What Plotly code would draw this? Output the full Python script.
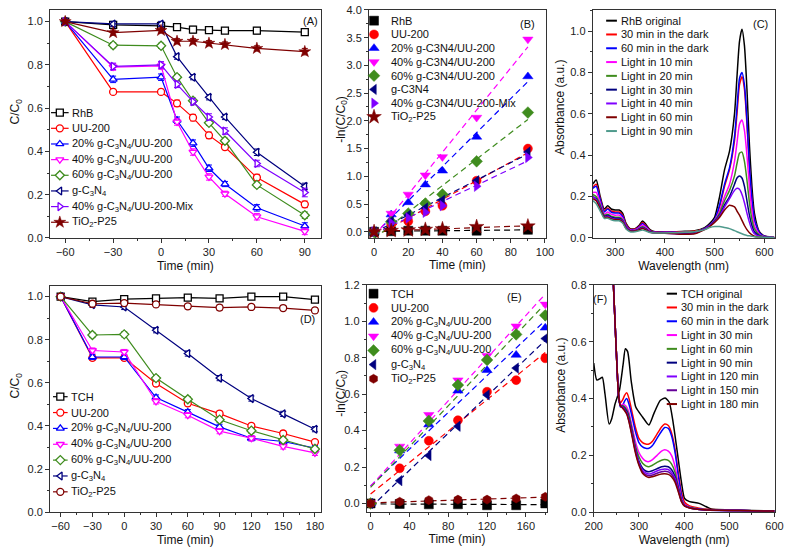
import numpy as np
import plotly.graph_objects as go

W, H = 794, 558
FONT = "Liberation Sans, Arial, sans-serif"

# ---------------- Panel A: RhB, C/C0 vs time ----------------
T_A = [-60, -30, 0, 10, 20, 30, 40, 60, 90]
A_RhB = [1.0, 0.985, 0.98, 0.974, 0.963, 0.961, 0.958, 0.958, 0.951]
A_UU = [1.0, 0.675, 0.675, 0.622, 0.556, 0.474, 0.42, 0.279, 0.155]
A_20 = [1.0, 0.733, 0.743, 0.544, 0.438, 0.322, 0.249, 0.139, 0.055]
A_40 = [1.0, 0.79, 0.795, 0.536, 0.397, 0.282, 0.204, 0.098, 0.03]
A_60 = [1.0, 0.891, 0.888, 0.743, 0.634, 0.532, 0.449, 0.245, 0.105]
A_gCN = [1.0, 0.989, 0.989, 0.838, 0.743, 0.65, 0.559, 0.396, 0.238]
A_Mix = [1.0, 0.793, 0.8, 0.71, 0.63, 0.559, 0.494, 0.344, 0.21]
A_P25 = [1.0, 0.949, 0.959, 0.909, 0.909, 0.9, 0.894, 0.876, 0.861]
A_RhB_err = [0.01, 0.012, 0.012, 0.015, 0.015, 0.012, 0.012, 0.015, 0.015]
A_UU_err = [0.01, 0.012, 0.012, 0.015, 0.015, 0.015, 0.012, 0.015, 0.015]
A_20_err = [0.01, 0.015, 0.015, 0.015, 0.015, 0.015, 0.012, 0.015, 0.015]
A_40_err = [0.01, 0.015, 0.015, 0.015, 0.015, 0.015, 0.012, 0.015, 0.015]
A_60_err = [0.01, 0.012, 0.012, 0.012, 0.012, 0.012, 0.012, 0.012, 0.015]
A_gCN_err = [0.01, 0.012, 0.012, 0.012, 0.012, 0.012, 0.012, 0.015, 0.015]
A_Mix_err = [0.01, 0.015, 0.015, 0.015, 0.015, 0.015, 0.015, 0.015, 0.02]
A_P25_err = [0.01, 0.012, 0.012, 0.012, 0.012, 0.012, 0.012, 0.012, 0.015]

# ---------------- Panel B: RhB kinetics ----------------
T_B = [0, 10, 20, 30, 40, 60, 90]
B_RhB = [0.0, 0.01, 0.02, 0.02, 0.02, 0.02, 0.035]
B_UU = [0.0, 0.14, 0.19, 0.37, 0.47, 0.92, 1.5]
B_20 = [0.0, 0.31, 0.53, 0.85, 1.1, 1.71, 2.8]
B_40 = [0.0, 0.33, 0.674, 1.02, 1.35, 2.06, 3.47]
B_60 = [0.0, 0.18, 0.33, 0.51, 0.674, 1.27, 2.15]
B_gCN = [0.0, 0.19, 0.3, 0.43, 0.57, 0.92, 1.44]
B_Mix = [0.0, 0.16, 0.25, 0.35, 0.47, 0.82, 1.34]
B_P25 = [0.0, 0.02, 0.03, 0.04, 0.05, 0.09, 0.1]

# ---------------- Panel C: RhB spectra ----------------
WL_C = [255, 262, 270, 278, 285, 292, 300, 308, 315, 322, 330, 340, 348, 355, 362, 370,
        380, 400, 420, 440, 460, 480, 490, 500, 510, 520, 530, 540, 545, 550, 555, 560,
        565, 570, 575, 580, 590, 600, 610, 620]
C_orig = [0.26, 0.28, 0.20, 0.14, 0.155, 0.14, 0.135, 0.135, 0.12, 0.07, 0.045, 0.045, 0.06, 0.082, 0.065, 0.04,
          0.03, 0.03, 0.03, 0.032, 0.035, 0.05, 0.07, 0.10, 0.20, 0.33, 0.42, 0.60, 0.78, 0.95, 1.01, 0.93,
          0.72, 0.45, 0.25, 0.12, 0.03, 0.01, 0.005, 0.003]
C_d30 = [0.245, 0.26, 0.19, 0.13, 0.145, 0.13, 0.125, 0.125, 0.11, 0.065, 0.042, 0.043, 0.055, 0.075, 0.058, 0.036,
         0.028, 0.028, 0.028, 0.03, 0.033, 0.045, 0.062, 0.085, 0.15, 0.25, 0.33, 0.47, 0.60, 0.74, 0.78, 0.72,
         0.55, 0.34, 0.19, 0.09, 0.025, 0.008, 0.004, 0.002]
C_d60 = [0.24, 0.25, 0.185, 0.125, 0.14, 0.125, 0.12, 0.12, 0.105, 0.06, 0.04, 0.04, 0.052, 0.07, 0.055, 0.034,
         0.027, 0.027, 0.027, 0.02, 0.025, 0.045, 0.062, 0.088, 0.16, 0.26, 0.34, 0.49, 0.63, 0.77, 0.80, 0.74,
         0.57, 0.35, 0.19, 0.09, 0.025, 0.008, 0.004, 0.002]
C_l10 = [0.22, 0.22, 0.17, 0.115, 0.125, 0.115, 0.11, 0.11, 0.095, 0.055, 0.038, 0.038, 0.048, 0.062, 0.05, 0.032,
         0.026, 0.026, 0.026, 0.028, 0.03, 0.045, 0.06, 0.085, 0.13, 0.2, 0.26, 0.37, 0.46, 0.55, 0.57, 0.52,
         0.40, 0.25, 0.13, 0.06, 0.018, 0.006, 0.003, 0.002]
C_l20 = [0.21, 0.2, 0.16, 0.11, 0.115, 0.105, 0.1, 0.1, 0.088, 0.052, 0.036, 0.036, 0.044, 0.055, 0.045, 0.03,
         0.025, 0.025, 0.025, 0.027, 0.03, 0.045, 0.06, 0.082, 0.12, 0.18, 0.23, 0.3, 0.36, 0.41, 0.415, 0.37,
         0.28, 0.17, 0.09, 0.045, 0.014, 0.005, 0.003, 0.002]
C_l30 = [0.2, 0.19, 0.15, 0.105, 0.11, 0.1, 0.095, 0.095, 0.083, 0.05, 0.035, 0.035, 0.042, 0.05, 0.042, 0.029,
         0.025, 0.024, 0.022, 0.02, 0.025, 0.045, 0.06, 0.08, 0.11, 0.16, 0.2, 0.26, 0.29, 0.3, 0.29, 0.25,
         0.18, 0.11, 0.06, 0.03, 0.01, 0.004, 0.002, 0.001]
C_l40 = [0.2, 0.185, 0.145, 0.1, 0.105, 0.095, 0.09, 0.09, 0.08, 0.048, 0.034, 0.034, 0.04, 0.048, 0.04, 0.028,
         0.024, 0.022, 0.02, 0.018, 0.022, 0.043, 0.058, 0.078, 0.105, 0.15, 0.19, 0.23, 0.24, 0.235, 0.21, 0.17,
         0.12, 0.075, 0.04, 0.02, 0.008, 0.003, 0.002, 0.001]
C_l60 = [0.19, 0.18, 0.14, 0.1, 0.1, 0.092, 0.088, 0.088, 0.077, 0.046, 0.033, 0.033, 0.038, 0.045, 0.038, 0.027,
         0.024, 0.022, 0.02, 0.018, 0.02, 0.04, 0.055, 0.075, 0.1, 0.135, 0.158, 0.15, 0.13, 0.11, 0.085, 0.06,
         0.04, 0.025, 0.015, 0.008, 0.004, 0.002, 0.001, 0.001]
C_l90 = [0.18, 0.165, 0.13, 0.095, 0.095, 0.088, 0.083, 0.083, 0.072, 0.043, 0.03, 0.03, 0.034, 0.038, 0.033, 0.026,
         0.024, 0.024, 0.025, 0.027, 0.03, 0.04, 0.05, 0.055, 0.055, 0.05, 0.045, 0.035, 0.03, 0.025, 0.02, 0.015,
         0.012, 0.01, 0.008, 0.006, 0.004, 0.003, 0.002, 0.001]

# ---------------- Panel D: TCH, C/C0 vs time ----------------
T_D = [-60, -30, 0, 30, 60, 90, 120, 150, 180]
D_TCH = [1.0, 0.977, 0.988, 0.992, 0.995, 0.992, 1.0, 1.0, 0.986]
D_UU = [1.0, 0.716, 0.716, 0.597, 0.505, 0.457, 0.4, 0.365, 0.325]
D_20 = [1.0, 0.72, 0.72, 0.532, 0.464, 0.396, 0.343, 0.328, 0.297]
D_40 = [1.0, 0.75, 0.743, 0.514, 0.45, 0.376, 0.343, 0.305, 0.275]
D_60 = [1.0, 0.822, 0.825, 0.622, 0.524, 0.429, 0.378, 0.335, 0.293]
D_gCN = [1.0, 0.962, 0.952, 0.844, 0.736, 0.622, 0.527, 0.456, 0.385]
D_P25 = [1.0, 0.967, 0.97, 0.964, 0.955, 0.949, 0.952, 0.947, 0.936]
D_err = [0.008, 0.012, 0.012, 0.012, 0.012, 0.012, 0.012, 0.012, 0.012]

# ---------------- Panel E: TCH kinetics ----------------
T_E = [0, 30, 60, 90, 120, 150, 180]
E_TCH = [0.0, -0.003, -0.005, -0.005, -0.01, -0.01, 0.0]
E_UU = [0.0, 0.193, 0.344, 0.457, 0.613, 0.677, 0.797]
E_20 = [0.0, 0.29, 0.433, 0.618, 0.731, 0.815, 0.964]
E_40 = [0.0, 0.313, 0.487, 0.677, 0.811, 0.973, 1.093]
E_60 = [0.0, 0.292, 0.453, 0.65, 0.788, 0.928, 1.033]
E_gCN = [0.0, 0.125, 0.263, 0.424, 0.596, 0.743, 0.905]
E_P25 = [0.0, 0.009, 0.018, 0.021, 0.021, 0.027, 0.036]

# ---------------- Panel F: TCH spectra ----------------
WL_F0 = [200, 207, 214, 219, 225, 234, 240, 247, 257, 265, 270, 275, 283, 293, 308, 322, 333, 347,
         358, 367, 376, 387, 394, 401, 412, 433, 448, 460, 500, 550, 600]
F_orig = [0.525, 0.465, 0.47, 0.475, 0.415, 0.31, 0.33, 0.38, 0.43, 0.52, 0.575, 0.565, 0.46, 0.37, 0.335,
          0.307, 0.347, 0.393, 0.402, 0.387, 0.312, 0.186, 0.106, 0.048, 0.037, 0.031, 0.02, 0.011, 0.008,
          0.006, 0.004]
WL_F = [243, 249, 255, 259, 264, 268, 273, 278, 285, 292, 300, 308, 315, 322, 330, 340, 350, 357, 365,
        372, 380, 387, 394, 401, 412, 430, 450, 500, 550, 600]
F_d30 = [0.82, 0.6, 0.42, 0.385, 0.395, 0.41, 0.42, 0.40, 0.35, 0.30, 0.26, 0.245, 0.24, 0.24, 0.25, 0.275,
         0.30, 0.31, 0.305, 0.28, 0.22, 0.14, 0.07, 0.035, 0.022, 0.015, 0.01, 0.007, 0.005, 0.004]
F_d60 = [0.82, 0.6, 0.41, 0.37, 0.375, 0.39, 0.40, 0.38, 0.335, 0.285, 0.245, 0.23, 0.225, 0.225, 0.235, 0.26,
         0.285, 0.298, 0.295, 0.27, 0.21, 0.13, 0.06, 0.025, 0.015, 0.01, 0.008, 0.006, 0.005, 0.004]
F_l30 = [0.82, 0.6, 0.41, 0.375, 0.38, 0.378, 0.37, 0.35, 0.30, 0.25, 0.21, 0.19, 0.18, 0.178, 0.185, 0.2,
         0.215, 0.22, 0.215, 0.2, 0.16, 0.1, 0.05, 0.028, 0.018, 0.012, 0.009, 0.006, 0.005, 0.004]
F_l60 = [0.82, 0.6, 0.41, 0.375, 0.375, 0.372, 0.36, 0.34, 0.29, 0.235, 0.195, 0.172, 0.163, 0.16, 0.165,
         0.175, 0.183, 0.185, 0.182, 0.17, 0.14, 0.09, 0.045, 0.025, 0.017, 0.012, 0.009, 0.006, 0.005, 0.004]
F_l90 = [0.82, 0.6, 0.41, 0.375, 0.372, 0.366, 0.355, 0.33, 0.28, 0.225, 0.18, 0.155, 0.145, 0.142, 0.146,
         0.153, 0.16, 0.162, 0.16, 0.15, 0.125, 0.085, 0.042, 0.024, 0.016, 0.011, 0.008, 0.006, 0.005, 0.004]
F_l120 = [0.82, 0.6, 0.41, 0.375, 0.37, 0.362, 0.35, 0.325, 0.275, 0.22, 0.175, 0.148, 0.138, 0.134, 0.138,
          0.145, 0.15, 0.152, 0.15, 0.14, 0.118, 0.08, 0.04, 0.023, 0.016, 0.011, 0.008, 0.006, 0.005, 0.004]
F_l150 = [0.82, 0.6, 0.41, 0.375, 0.368, 0.36, 0.348, 0.32, 0.27, 0.215, 0.17, 0.142, 0.132, 0.128, 0.131,
          0.137, 0.142, 0.144, 0.142, 0.133, 0.112, 0.077, 0.039, 0.022, 0.015, 0.01, 0.008, 0.006, 0.005, 0.004]
F_l180 = [0.82, 0.6, 0.41, 0.375, 0.366, 0.358, 0.345, 0.318, 0.265, 0.21, 0.165, 0.137, 0.127, 0.122, 0.125,
          0.13, 0.134, 0.135, 0.133, 0.125, 0.105, 0.072, 0.037, 0.021, 0.015, 0.01, 0.008, 0.006, 0.005, 0.004]

# ---------------- names ----------------
CN = "g-C<sub>3</sub>N<sub>4</sub>"
P25 = "TiO<sub>2</sub>-P25"
NAMES_A = ["RhB", "UU-200", "20% " + CN + "/UU-200", "40% " + CN + "/UU-200", "60% " + CN + "/UU-200",
           CN, "40% " + CN + "/UU-200-Mix", P25]
NAMES_B = ["RhB", "UU-200", "20% g-C3N4/UU-200", "40% g-C3N4/UU-200", "60% g-C3N4/UU-200", "g-C3N4",
           "40% g-C3N4/UU-200-Mix", P25]
NAMES_C = ["RhB original", "30 min in the dark", "60 min in the dark", "Light in 10 min", "Light in 20 min",
           "Light in 30 min", "Light in 40 min", "Light in 60 min", "Light in 90 min"]
NAMES_D = ["TCH", "UU-200", "20% " + CN + "/UU-200", "40% " + CN + "/UU-200", "60% " + CN + "/UU-200", CN, P25]
NAMES_F = ["TCH original", "30 min in the dark", "60 min in the dark", "Light in 30 min", "Light in 60 min",
           "Light in 90 min", "Light in 120 min", "Light in 150 min", "Light in 180 min"]

# ---------------- styles ----------------
BLACK, RED, BLUE, MAG = "#000000", "#ff0000", "#0000ff", "#ff00ff"
GREEN, NAVY, VIOLET, WINE = "#3f8c1e", "#00007f", "#7f00ff", "#7f0000"
TEAL, PURPLE = "#4f9a8c", "#660099"
COL_A = [BLACK, RED, BLUE, MAG, GREEN, NAVY, VIOLET, WINE]
SYM_A = ["square", "circle", "triangle-up", "triangle-down", "diamond", "triangle-left", "triangle-right", "star"]
OPEN_A = [True] * 7 + [False]
COL_D = [BLACK, RED, BLUE, MAG, GREEN, NAVY, WINE]
SYM_D = ["square", "circle", "triangle-up", "triangle-down", "diamond", "triangle-left", "circle"]
SYM_E = ["square", "circle", "triangle-up", "triangle-down", "diamond", "triangle-left", "hexagon"]
COL_C = [BLACK, RED, BLUE, MAG, GREEN, NAVY, VIOLET, WINE, TEAL]
COL_F = [BLACK, RED, BLUE, MAG, GREEN, NAVY, VIOLET, PURPLE, WINE]

fig = go.Figure()


def px(x):
    return x / W


def py(y):
    return 1 - y / H


def marker(sym, color, is_open, size):
    if is_open:
        return dict(symbol=sym, size=size, color="white", line=dict(color=color, width=1.3))
    return dict(symbol=sym, size=size, color=color, line=dict(color=color, width=0.5))


# Panel A traces
series_A = [A_RhB, A_UU, A_20, A_40, A_60, A_gCN, A_Mix, A_P25]
errs_A = [A_RhB_err, A_UU_err, A_20_err, A_40_err, A_60_err, A_gCN_err, A_Mix_err, A_P25_err]
for ys, er, c, s, o in zip(series_A, errs_A, COL_A, SYM_A, OPEN_A):
    fig.add_trace(go.Scatter(x=T_A, y=ys, mode="lines+markers", xaxis="x", yaxis="y",
                             line=dict(color=c, width=1.2), marker=marker(s, c, o, 9 if s == "star" else 7),
                             error_y=dict(type="data", array=er, color=c, thickness=1, width=3),
                             showlegend=False))

# Panel B traces
series_B = [B_RhB, B_UU, B_20, B_40, B_60, B_gCN, B_Mix, B_P25]
for ys, c, s in zip(series_B, COL_A, SYM_A):
    k, b = np.polyfit(T_B, ys, 1)
    xf = np.array([T_B[0], T_B[-1]], dtype=float)
    fig.add_trace(go.Scatter(x=xf, y=k * xf + b, mode="lines", xaxis="x2", yaxis="y2",
                             line=dict(color=c, width=1.2, dash="6px,4px"), showlegend=False))
for ys, c, s in zip(series_B, COL_A, SYM_A):
    fig.add_trace(go.Scatter(x=T_B, y=ys, mode="markers", xaxis="x2", yaxis="y2",
                             marker=marker(s, c, False, 11 if s == "star" else 9), showlegend=False))

# Panel C traces
series_C = [C_orig, C_d30, C_d60, C_l10, C_l20, C_l30, C_l40, C_l60, C_l90]
for ys, c in zip(series_C, COL_C):
    fig.add_trace(go.Scatter(x=WL_C, y=ys, mode="lines", xaxis="x3", yaxis="y3",
                             line=dict(color=c, width=1.5, shape="spline", smoothing=0.6), showlegend=False))

# Panel D traces
series_D = [D_TCH, D_UU, D_20, D_40, D_60, D_gCN, D_P25]
for ys, c, s in zip(series_D, COL_D, SYM_D):
    fig.add_trace(go.Scatter(x=T_D, y=ys, mode="lines+markers", xaxis="x4", yaxis="y4",
                             line=dict(color=c, width=1.2), marker=marker(s, c, True, 7),
                             error_y=dict(type="data", array=D_err, color=c, thickness=1, width=3),
                             showlegend=False))

# Panel E traces
series_E = [E_TCH, E_UU, E_20, E_40, E_60, E_gCN, E_P25]
for ys, c in zip(series_E, COL_D):
    k, b = np.polyfit(T_E, ys, 1)
    xf = np.array([T_E[0], T_E[-1]], dtype=float)
    fig.add_trace(go.Scatter(x=xf, y=k * xf + b, mode="lines", xaxis="x5", yaxis="y5",
                             line=dict(color=c, width=1.2, dash="6px,4px"), showlegend=False))
for ys, c, s in zip(series_E, COL_D, SYM_E):
    fig.add_trace(go.Scatter(x=T_E, y=ys, mode="markers", xaxis="x5", yaxis="y5",
                             marker=marker(s, c, False, 9), showlegend=False))

# Panel F traces
fig.add_trace(go.Scatter(x=WL_F0, y=F_orig, mode="lines", xaxis="x6", yaxis="y6",
                         line=dict(color=BLACK, width=1.5, shape="spline", smoothing=0.6), showlegend=False))
series_F = [F_d30, F_d60, F_l30, F_l60, F_l90, F_l120, F_l150, F_l180]
for ys, c in zip(series_F, COL_F[1:]):
    fig.add_trace(go.Scatter(x=WL_F, y=ys, mode="lines", xaxis="x6", yaxis="y6",
                             line=dict(color=c, width=1.5, shape="spline", smoothing=0.6), showlegend=False))

# ---------------- custom legends (overlay axis in pixel units) ----------------
annotations = []


def legend_text(x, y, text, size=11):
    annotations.append(dict(x=px(x), y=py(y), xref="paper", yref="paper", text=text, showarrow=False,
                            xanchor="left", yanchor="middle", font=dict(family=FONT, size=size, color="#111")))


def legend_line_marker(names, cols, syms, opens, x0, x1, xt, y0, dy, size):
    for i, (n, c, s, o) in enumerate(zip(names, cols, syms, opens)):
        yy = y0 + i * dy
        fig.add_trace(go.Scatter(x=[x0, x1], y=[yy, yy], mode="lines", xaxis="x7", yaxis="y7",
                                 line=dict(color=c, width=1.2), showlegend=False, hoverinfo="skip"))
        fig.add_trace(go.Scatter(x=[(x0 + x1) / 2], y=[yy], mode="markers", xaxis="x7", yaxis="y7",
                                 marker=marker(s, c, o, size + (2 if s == "star" else 0)),
                                 showlegend=False, hoverinfo="skip"))
        legend_text(xt, yy, n)


def legend_marker(names, cols, syms, xm, xt, y0, dy, size):
    for i, (n, c, s) in enumerate(zip(names, cols, syms)):
        yy = y0 + i * dy
        fig.add_trace(go.Scatter(x=[xm], y=[yy], mode="markers", xaxis="x7", yaxis="y7",
                                 marker=marker(s, c, False, size + (2 if s == "star" else 0)),
                                 showlegend=False, hoverinfo="skip"))
        legend_text(xt, yy, n)


def legend_line(names, cols, x0, x1, xt, y0, dy):
    for i, (n, c) in enumerate(zip(names, cols)):
        yy = y0 + i * dy
        fig.add_trace(go.Scatter(x=[x0, x1], y=[yy, yy], mode="lines", xaxis="x7", yaxis="y7",
                                 line=dict(color=c, width=2), showlegend=False, hoverinfo="skip"))
        legend_text(xt, yy, n)


legend_line_marker(NAMES_A, COL_A, SYM_A, OPEN_A, 43, 61, 62.5, 109, 16.0, 7)
legend_marker(NAMES_B, COL_A, SYM_A, 373.5, 389, 15, 14.05, 9)
legend_line(NAMES_C, COL_C, 611, 622, 624, 15, 14.1)
legend_line_marker(NAMES_D, COL_D, SYM_D, [True] * 7, 45, 60, 61.7, 399.3, 16.2, 7)
legend_marker(NAMES_D, COL_D, SYM_E, 373, 389, 294, 14.5, 9)
legend_line(NAMES_F, COL_F, 673, 683.5, 685.7, 294, 14.1)


# ---------------- y titles & panel labels ----------------
def text(x, y, t, size=11, angle=0):
    annotations.append(dict(x=px(x), y=py(y), xref="paper", yref="paper", text=t, showarrow=False,
                            xanchor="center", yanchor="middle", textangle=angle,
                            font=dict(family=FONT, size=size, color="#111")))


text(7, 108, "C/C<sub>0</sub>", 12, -90)
text(340, 116, "-ln(C/C<sub>0</sub>)", 12, -90)
text(564, 104, "Absorbance (a.u.)", 12, -90)
text(7, 388, "C/C<sub>0</sub>", 12, -90)
text(341, 396, "-ln(C/C<sub>0</sub>)", 12, -90)
text(564, 388, "Absorbance (a.u.)", 12, -90)
text(309, 15, "(A)")
text(530.5, 18, "(B)")
text(768.5, 18, "(C)")
text(305.5, 320, "(D)")
text(517.5, 297, "(E)")
text(605, 299, "(F)")

# ---------------- axes ----------------
TFONT = dict(family=FONT, size=12, color="#111")
AX = dict(showline=True, linecolor="#333", linewidth=1, mirror=True, ticks="outside", ticklen=4,
          tickwidth=1, tickcolor="#333", showgrid=False, zeroline=False,
          tickfont=dict(family=FONT, size=11, color="#222"))


def ax(box_lo, box_hi, rng, vertical=False, title=None, standoff=4, **kw):
    d = dict(AX)
    if vertical:
        d["domain"] = [py(box_hi), py(box_lo)]
    else:
        d["domain"] = [px(box_lo), px(box_hi)]
    d["range"] = rng
    if title:
        d["title"] = dict(text=title, font=TFONT, standoff=standoff)
    d.update(kw)
    return d


def minor(dt):
    return dict(ticks="outside", ticklen=2, tickcolor="#333", dtick=dt)


T_TIME = "Time (min)"
T_WL = "Wavelength (nm)"

fig.update_layout(
    xaxis=ax(42, 319, [-69.5, 100], title=T_TIME, standoff=4, anchor="y",
             tickvals=[-60, -30, 0, 30, 60, 90], minor=minor(15), tick0=-60),
    yaxis=ax(4, 237, [0, 1.054], True, anchor="x", dtick=0.2, tickformat=".1f", minor=minor(0.1)),
    xaxis2=ax(368.3, 549.3, [-3, 100.5], title=T_TIME, standoff=2, anchor="y2", dtick=20, tick0=0,
              minor=minor(10)),
    yaxis2=ax(4, 237, [-0.11, 4.0], True, anchor="x2", dtick=0.5, tick0=0, tickformat=".1f", minor=minor(0.25)),
    xaxis3=ax(597.3, 783.3, [255, 620.5], title=T_WL, standoff=4, anchor="y3", dtick=100, tick0=0,
              minor=minor(50)),
    yaxis3=ax(4, 237, [0, 1.103], True, anchor="x3", dtick=0.2, tickformat=".1f", minor=minor(0.1)),
    xaxis4=ax(42, 319, [-70, 185.5], title=T_TIME, standoff=4, anchor="y4",
              tickvals=[-60, -30, 0, 30, 60, 90, 120, 150, 180], minor=minor(15), tick0=-60),
    yaxis4=ax(286, 517.3, [0, 1.05], True, anchor="x4", dtick=0.2, tickformat=".1f", minor=minor(0.1)),
    xaxis5=ax(366, 550.7, [-4, 182], title=T_TIME, standoff=2, anchor="y5", dtick=40, tick0=0,
              minor=minor(20)),
    yaxis5=ax(285, 517.3, [-0.048, 1.2], True, anchor="x5", dtick=0.2, tick0=0, tickformat=".1f",
              minor=minor(0.1)),
    xaxis6=ax(598.3, 783.3, [200, 600], title=T_WL, standoff=4, anchor="y6", dtick=100, tick0=0,
              minor=minor(50)),
    yaxis6=ax(285, 517.3, [0, 0.8], True, anchor="x6", dtick=0.2, tickformat=".1f", minor=minor(0.1)),
    xaxis7=dict(domain=[0, 1], range=[0, W], visible=False, anchor="y7", fixedrange=True),
    yaxis7=dict(domain=[0, 1], range=[H, 0], visible=False, anchor="x7", fixedrange=True),
    annotations=annotations,
    width=W, height=H, autosize=False,
    margin=dict(l=0, r=0, t=0, b=0),
    paper_bgcolor="white", plot_bgcolor="rgba(0,0,0,0)",
    showlegend=False,
    font=dict(family=FONT, size=11, color="#222"),
)

fig.write_html("out.html")
